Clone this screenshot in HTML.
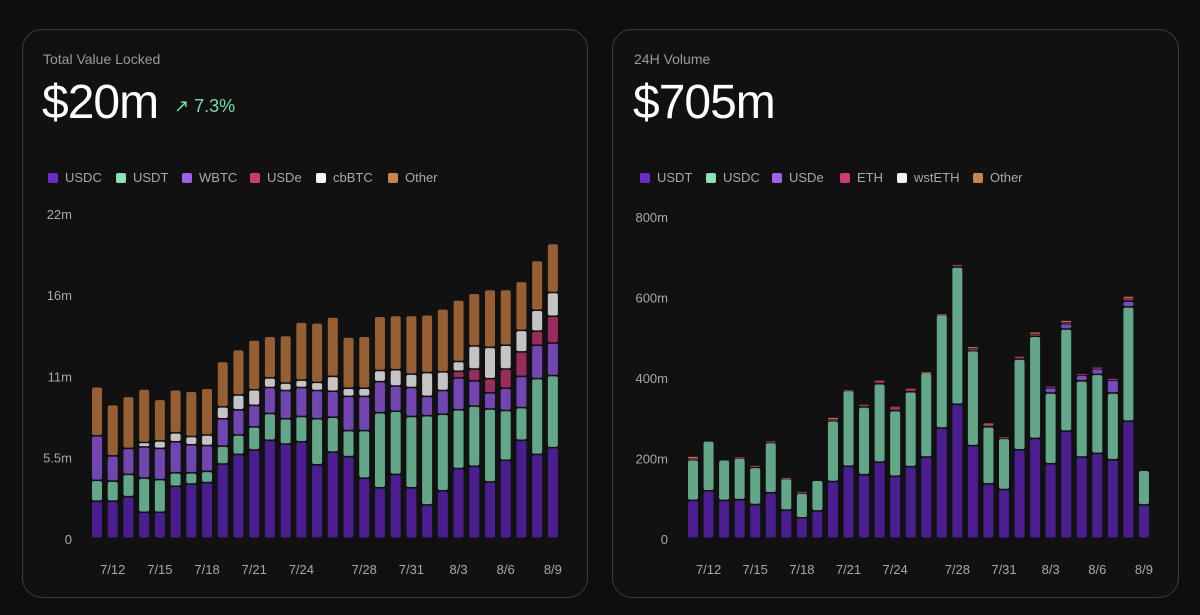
<!DOCTYPE html>
<html><head><meta charset="utf-8"><style>
html,body{margin:0;padding:0;background:#0e0e0e;width:1200px;height:615px;overflow:hidden;font-family:"Liberation Sans",sans-serif}
.card{position:absolute;top:29px;height:569px;border:1px solid #3a3a3a;border-radius:20px;background:#111111;box-sizing:border-box}
.t{position:absolute;color:#9a9a9a;font-size:14px}
.big{position:absolute;color:#fff;font-size:48px;letter-spacing:-1px}
.chg{position:absolute;color:#6fe0a8;font-size:18px}
.lg{position:absolute;top:170px;color:#a8a8a8;font-size:13px;white-space:nowrap}
.lg i{display:inline-block;width:10px;height:10px;border-radius:2px;margin-right:7px;vertical-align:-1px}
svg{position:absolute;left:0;top:0}
text{font-family:"Liberation Sans",sans-serif;font-size:13px;fill:#a8a8a8}
</style></head><body>
<div class="card" style="left:22px;width:566px"></div>
<div class="card" style="left:612px;width:567px"></div>
<div class="t" style="left:43px;top:51px">Total Value Locked</div>
<div class="big" style="left:42px;top:75px">$20m</div>
<div class="chg" style="left:174px;top:96px">↗ 7.3%</div>
<div class="t" style="left:634px;top:51px">24H Volume</div>
<div class="big" style="left:633px;top:75px">$705m</div>
<div id="lg1"></div>
<div id="lg2"></div>
<svg id="s" width="1200" height="615"></svg>
<script>
// TVL chart data (millions)
const tvlSeries = ["USDC","USDT","WBTC","USDe","cbBTC","Other"];
const tvlColors = ["#4b1e90","#62a787","#7146b1","#9a2c5d","#c4c4c4","#955f33"];
const tvlUSDC = [2.5,2.5,2.8,1.75,1.75,3.5,3.65,3.75,5.0,5.65,5.95,6.6,6.35,6.5,4.95,5.8,5.5,4.05,3.4,4.3,3.4,2.25,3.2,4.7,4.85,3.8,5.25,6.6,5.65,6.1];
const tvlUSDT = [1.4,1.35,1.5,2.3,2.2,0.9,0.75,0.75,1.2,1.3,1.55,1.8,1.7,1.7,3.1,2.35,1.75,3.2,5.05,4.25,4.8,6.0,5.15,3.95,4.05,4.9,3.35,2.2,5.1,4.85];
const tvlWBTC = [3.0,1.7,1.75,2.1,2.1,2.1,1.9,1.75,1.85,1.7,1.45,1.75,1.9,1.95,1.9,1.75,2.3,2.3,2.1,1.7,1.95,1.3,1.6,2.15,1.7,1.1,1.5,2.1,2.25,2.2];
const tvlUSDe = [0,0,0,0,0,0,0,0,0,0,0,0,0,0,0,0,0,0,0,0,0,0,0,0.45,0.8,0.95,1.3,1.65,0.95,1.8];
const tvlCbBTC = [0,0,0,0.3,0.5,0.6,0.55,0.7,0.8,1.0,1.05,0.65,0.5,0.5,0.55,1.0,0.55,0.55,0.75,1.1,0.9,1.6,1.25,0.65,1.55,2.1,1.6,1.45,1.4,1.6];
const tvlOther = [3.3,3.45,3.5,3.6,2.8,2.9,3.05,3.15,3.05,3.05,3.35,2.8,3.2,3.9,4.0,4.0,3.45,3.5,3.65,3.65,3.95,3.9,4.25,4.15,3.55,3.9,3.75,3.3,3.35,3.3];
const tvlTicks = ["0","5.5m","11m","16m","22m"];
const tvlTickVals = [0,5.475,10.95,16.425,21.9];
const tvlXLabels = {1:"7/12",4:"7/15",7:"7/18",10:"7/21",13:"7/24",17:"7/28",20:"7/31",23:"8/3",26:"8/6",29:"8/9"};
// Volume chart data (millions)
const volSeries = ["USDT","USDC","USDe","ETH","wstETH","Other"];
const volColors = ["#4b1e90","#62a787","#7a4bc0","#a32e62","#f0f0f0","#c07a3a"];
const volUSDT = [94,118,94,96,84,113,70,51,68,141,179,158,189,154,178,202,274,333,230,135,121,220,248,185,266,202,211,195,291,83];
const volUSDC = [101,124,101,103,92,125,78,61,76,151,188,168,195,163,186,209,282,341,236,142,127,225,254,176,254,189,196,166,284,86];
const volUSDe = [0,0,0,0,0,0,0,0,0,0,0,0,0,0,0,0,0,0,0,0,0,0,0,13,13,14,14,32,14,0];
const volETH = [5,0,0,4,6,5,4,5,0,5,3,8,10,12,10,0,3,7,6,7,5,8,6,5,5,5,5,5,9,0];
const volWst = [0,0,0,0,0,0,0,0,0,0,0,0,0,0,0,0,0,0,0,0,0,0,0,0,0,0,0,0,0,0];
const volOther = [4,0,0,0,0,0,0,0,0,4,0,0,0,0,0,3,0,0,5,3,0,0,5,0,4,0,0,0,4,0];
const volTicks = ["0","200m","400m","600m","800m"];
const volTickVals = [0,200,400,600,800];
const volXLabels = {1:"7/12",4:"7/15",7:"7/18",10:"7/21",13:"7/24",17:"7/28",20:"7/31",23:"8/3",26:"8/6",29:"8/9"};

const NS="http://www.w3.org/2000/svg";
const svg=document.getElementById('s');
function mk(tag,attrs){const e=document.createElementNS(NS,tag);for(const k in attrs)e.setAttribute(k,attrs[k]);svg.appendChild(e);return e;}

function drawChart(prefix,series,colors,arrs,ticks,tickVals,xl,x0,dx,y0,pxPerUnit,labelX){
  const yS=v=>y0-v*pxPerUnit, xS=i=>x0+i*dx;
  ticks.forEach((t,k)=>{
    const e=mk('text',{x:labelX,y:yS(tickVals[k])+5,'text-anchor':'end'});
    e.textContent=t;
    
    
  });
  for(const i in xl){
    const e=mk('text',{x:xS(+i),y:574,'text-anchor':'middle'});
    e.textContent=xl[i];
    
    
  }
  const n=arrs[0].length;
  for(let i=0;i<n;i++){
    let cum=0;
    for(let s=0;s<arrs.length;s++){
      const v=arrs[s][i]; if(!v) continue;
      const top=yS(cum+v), bot=yS(cum); cum+=v;
      const h=Math.max(bot-top-1.5,1.2);
      const r=mk('rect',{x:xS(i)-5,y:top,width:10,height:h,rx:Math.min(2,h/2),fill:colors[s]});
      
      
    }
  }
}
drawChart('tvl',tvlSeries,tvlColors,[tvlUSDC,tvlUSDT,tvlWBTC,tvlUSDe,tvlCbBTC,tvlOther],tvlTicks,tvlTickVals,tvlXLabels,97,15.72,539,14.85,72);
drawChart('vol',volSeries,volColors,[volUSDT,volUSDC,volUSDe,volETH,volWst,volOther],volTicks,volTickVals,volXLabels,693,15.55,539,0.4025,668);

function legend(id,series,xs,lc){
  const box=document.getElementById(id);
  series.forEach((s,k)=>{
    const d=document.createElement('div');
    d.className='lg';d.style.left=xs[k]+'px';
    d.innerHTML='<i style="background:'+lc[k]+'"></i>'+s;
    
    
    box.appendChild(d);
  });
}
legend('lg1',tvlSeries,[48,116,182,250,316,388],["#6a2ec8","#86e3b5","#9b63e8","#cc3a78","#f4f4f4","#c88548"]);
legend('lg2',volSeries,[640,706,772,840,897,973],["#6a2ec8","#86e3b5","#9b63e8","#cc3a78","#f4f4f4","#c88548"]);
</script>
</body></html>
